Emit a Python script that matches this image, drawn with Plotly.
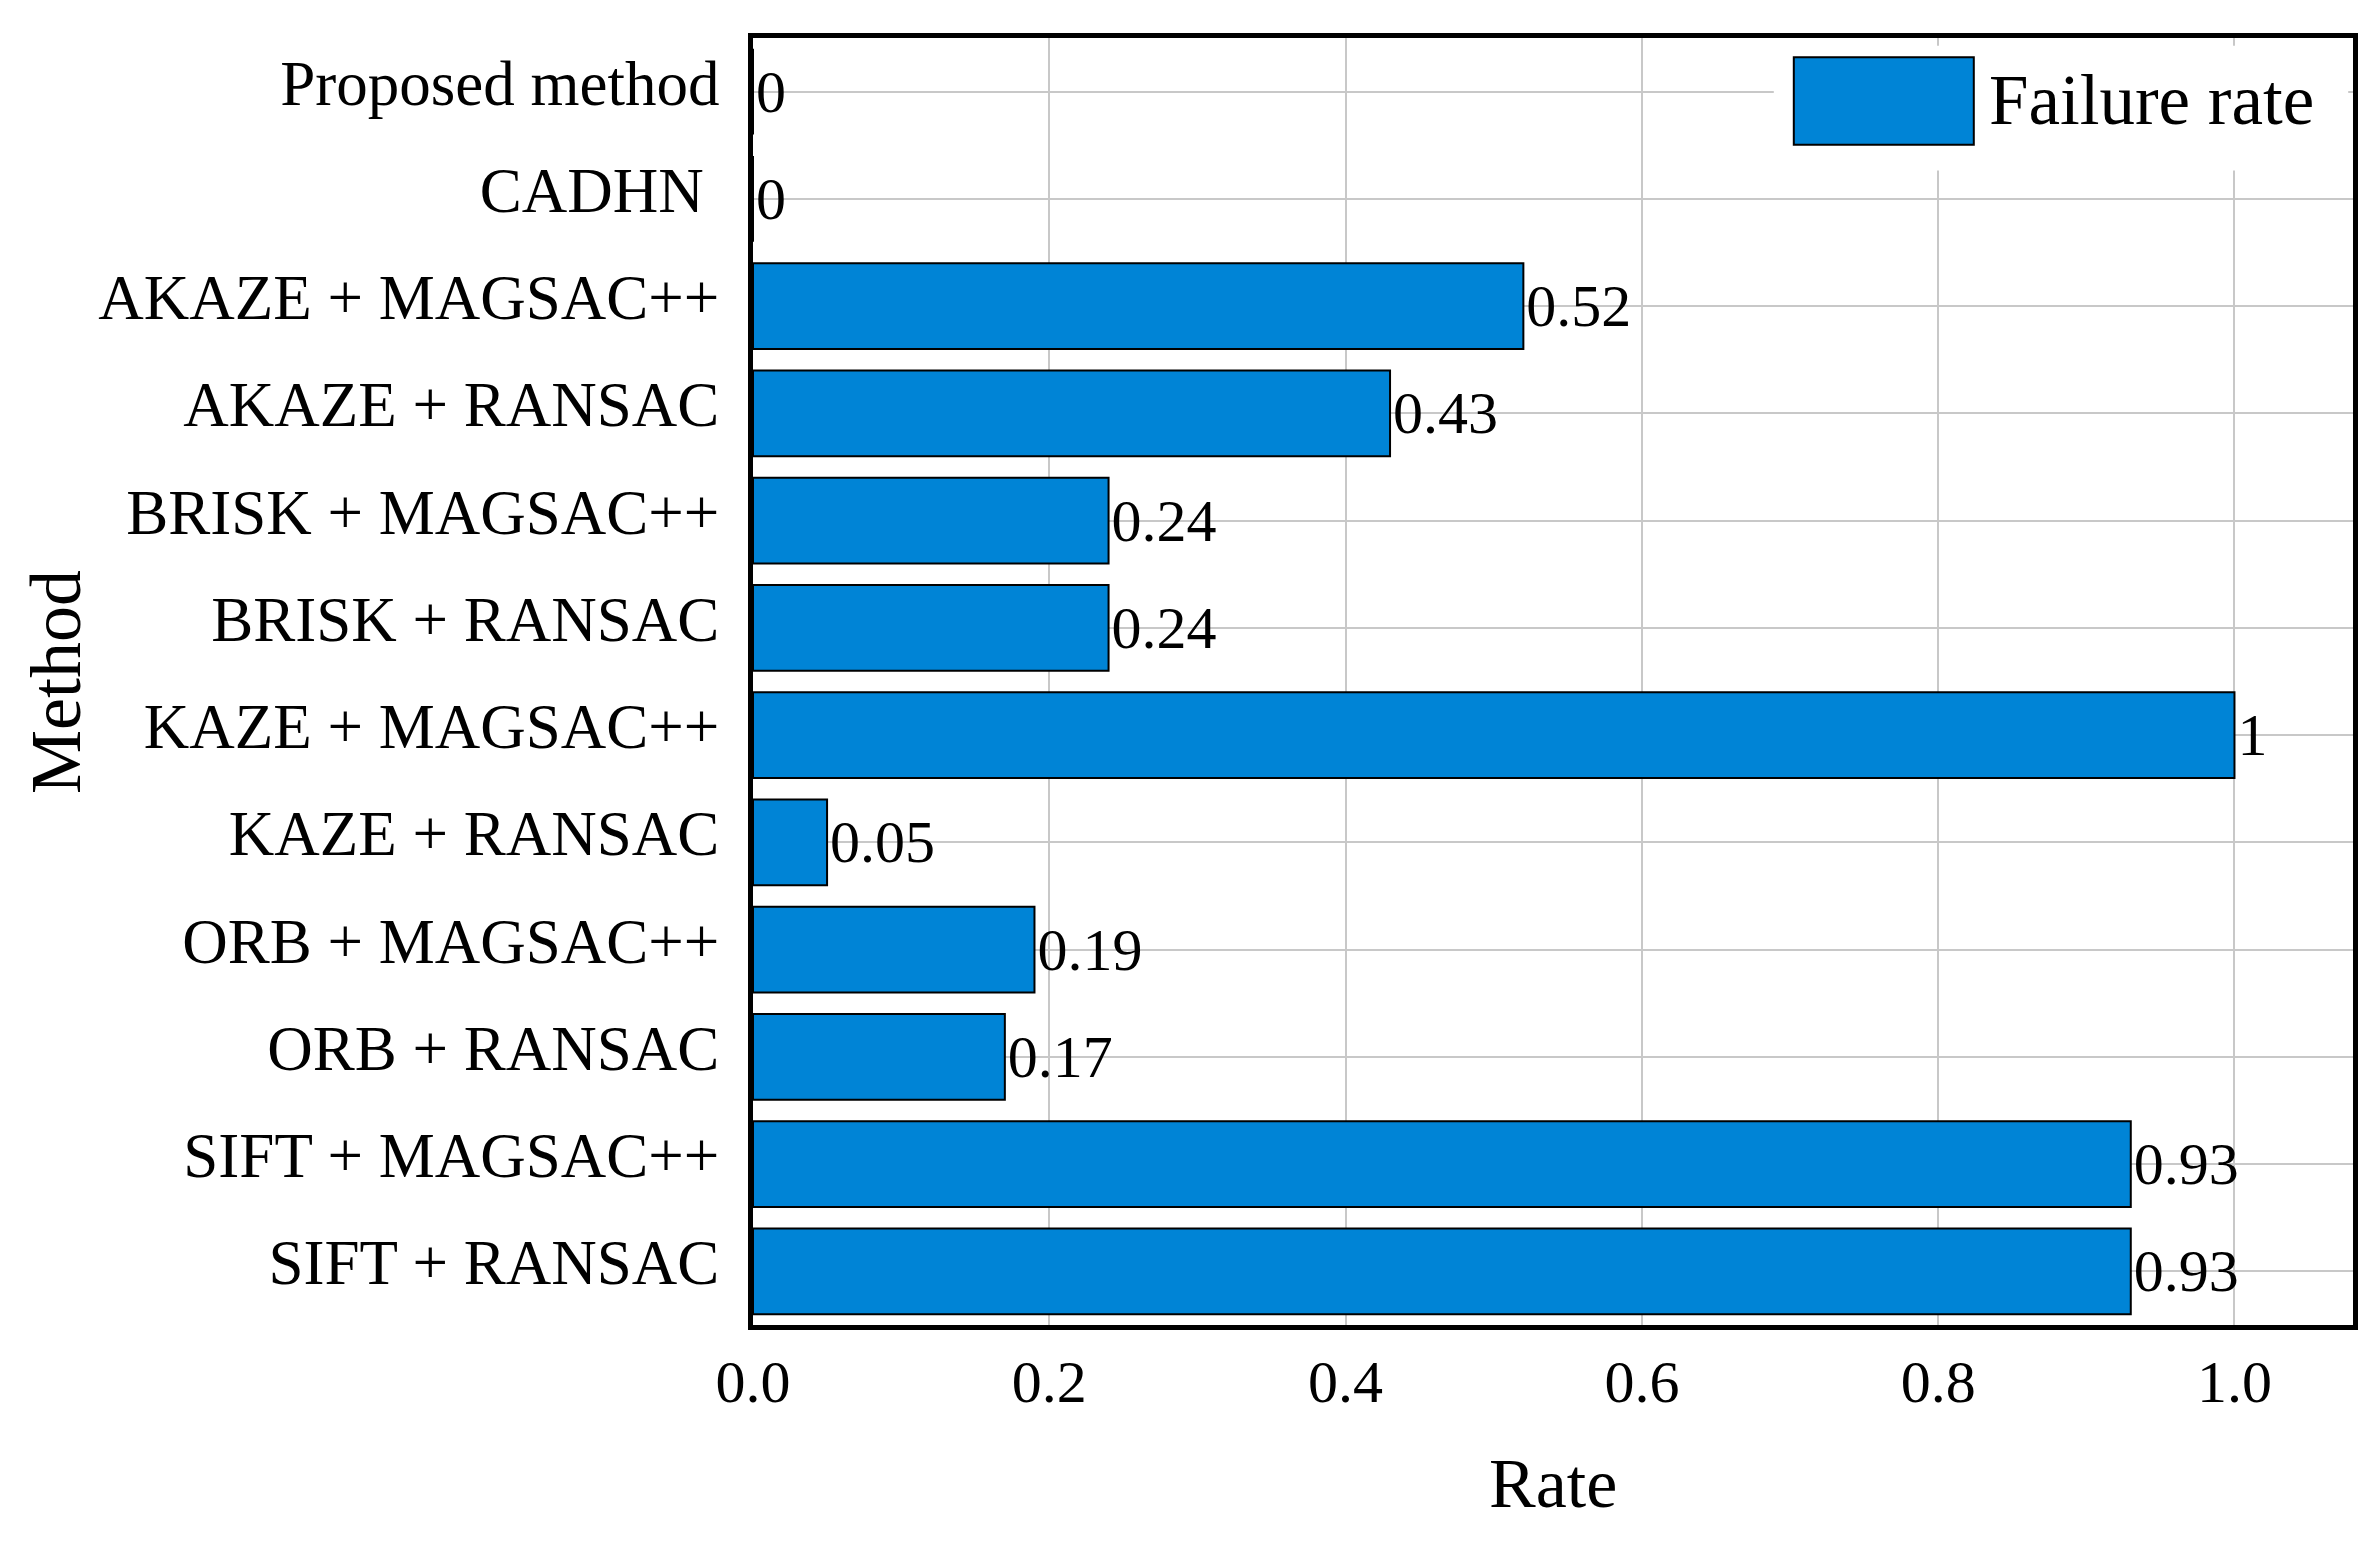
import plotly.graph_objects as go

methods = ["Proposed method", "CADHN\u00a0", "AKAZE + MAGSAC++", "AKAZE + RANSAC",
           "BRISK + MAGSAC++", "BRISK + RANSAC", "KAZE + MAGSAC++", "KAZE + RANSAC",
           "ORB + MAGSAC++", "ORB + RANSAC", "SIFT + MAGSAC++", "SIFT + RANSAC"]
failure_rate = [0, 0, 0.52, 0.43, 0.24, 0.24, 1, 0.05, 0.19, 0.17, 0.93, 0.93]
x_ticks = [0.0, 0.2, 0.4, 0.6, 0.8, 1.0]
x_tick_labels = ["0.0", "0.2", "0.4", "0.6", "0.8", "1.0"]

FONT = "Liberation Serif"
BAR_COLOR = "#0084D6"

fig = go.Figure()
fig.add_trace(go.Bar(
    x=failure_rate, y=methods, orientation="h", name="Failure rate",
    marker=dict(color=BAR_COLOR, line=dict(color="black", width=2)),
    width=0.8, text=[f"{v:g}" for v in failure_rate], textposition="outside",
    textfont=dict(family=FONT, size=60, color="black"), cliponaxis=False,
    showlegend=False,
))

fig.update_layout(
    width=2377, height=1542,
    margin=dict(l=745, r=32, t=30, b=225),
    paper_bgcolor="white", plot_bgcolor="white",
    font=dict(family=FONT, size=60, color="black"),
    bargap=0.2,
    xaxis=dict(range=[0, 1.08], tickvals=x_ticks, ticktext=x_tick_labels,
               showgrid=True, gridcolor="#c8c8c8", gridwidth=2,
               showline=True, linecolor="black", linewidth=5, mirror=True,
               ticks="", ticklabelstandoff=0, zeroline=False,
               tickfont=dict(family=FONT, size=60)),
    yaxis=dict(categoryorder="array", categoryarray=methods, autorange="reversed",
               showgrid=True, gridcolor="#c8c8c8", gridwidth=2,
               showline=True, linecolor="black", linewidth=5, mirror=True,
               ticks="", ticklabelstandoff=16, ticklabelshift=9,
               tickfont=dict(family=FONT, size=63)),
    shapes=[
        dict(type="rect", xref="paper", yref="paper", x0=0.638, x1=0.997, y0=0.897, y1=0.994,
             fillcolor="white", line=dict(width=0), layer="above"),
        dict(type="rect", xref="paper", yref="paper", x0=0.6505, x1=0.763, y0=0.917, y1=0.985,
             fillcolor=BAR_COLOR, line=dict(color="black", width=2), layer="above"),
    ],
    annotations=[
        dict(text="Failure rate", xref="paper", yref="paper", x=0.771, y=0.952,
             xanchor="left", yanchor="middle", showarrow=False,
             font=dict(family=FONT, size=71, color="black")),
        dict(text="Rate", xref="paper", yref="paper", x=0.5, y=-0.123,
             xanchor="center", yanchor="middle", showarrow=False,
             font=dict(family=FONT, size=70, color="black")),
        dict(text="Method", xref="paper", yref="paper", x=-0.436, y=0.5,
             xanchor="center", yanchor="middle", showarrow=False, textangle=-90,
             font=dict(family=FONT, size=72, color="black")),
    ],
)

fig.write_html("out.html")
